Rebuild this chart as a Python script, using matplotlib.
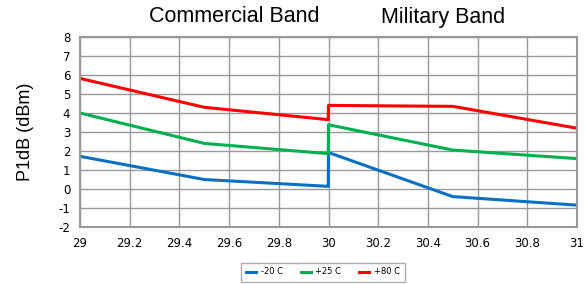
import matplotlib.pyplot as plt

plt.rcParams["axes.unicode_minus"] = False

# frequency (GHz) and P1dB (dBm)
freq = [29, 29.5, 29.999, 30, 30.5, 31]
p_m20 = [1.72, 0.5, 0.14, 1.92, -0.4, -0.85]
p_p25 = [4.0, 2.4, 1.86, 3.38, 2.05, 1.6]
p_p80 = [5.82, 4.3, 3.65, 4.4, 4.35, 3.2]

xticks = [29, 29.2, 29.4, 29.6, 29.8, 30, 30.2, 30.4, 30.6, 30.8, 31]
xticklabels = ["29", "29.2", "29.4", "29.6", "29.8", "30", "30.2", "30.4", "30.6", "30.8", "31"]
yticks = list(range(-2, 9))

fig = plt.figure(figsize=(5.87, 2.84), dpi=100)
ax = fig.add_axes([80/587, 1 - 227/284, (577 - 80)/587, (227 - 37)/284])

ax.plot(freq, p_m20, color="#0A70C4", lw=2.2, label="-20 C")
ax.plot(freq, p_p25, color="#00B050", lw=2.2, label="+25 C")
ax.plot(freq, p_p80, color="#FF0000", lw=2.2, label="+80 C")

ax.set_xlim(29, 31)
ax.set_ylim(-2, 8)
ax.set_xticks(xticks)
ax.set_xticklabels(xticklabels)
ax.set_yticks(yticks)
ax.tick_params(length=0, labelsize=8.5, pad=7)
ax.grid(True, color="#999999", lw=1)
ax.set_axisbelow(True)
for s in ax.spines.values():
    s.set_color("#999999")
    s.set_linewidth(1.5)

fig.text(25/587, 1 - 132/284, "P1dB (dBm)", rotation=90, ha="center", va="center",
         fontsize=13, family="Liberation Sans")

fig.text(234/587, 1 - 17/284, "Commercial Band", ha="center", va="center", fontsize=15.5,
         family="Liberation Sans")
fig.text(443/587, 1 - 17/284, "Military Band", ha="center", va="center", fontsize=15.5,
         family="Liberation Sans")

leg = fig.legend(loc="center", bbox_to_anchor=(323/587, 1 - 272/284), ncol=3, fontsize=6,
                 frameon=True, fancybox=False, edgecolor="#999999", handlelength=1.2,
                 columnspacing=2.2, handletextpad=0.5, borderpad=0.6)
leg.get_frame().set_linewidth(1)

fig.savefig("out.png", dpi=100)
